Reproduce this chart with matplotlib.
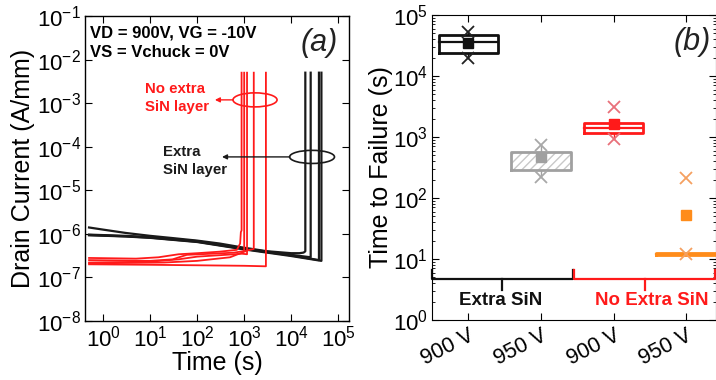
import numpy as np
import matplotlib
matplotlib.use("Agg")
import matplotlib.pyplot as plt
from matplotlib.patches import Ellipse

plt.rcParams['font.family'] = ['Liberation Sans', 'DejaVu Sans']
plt.rcParams['mathtext.fontset'] = 'custom'
plt.rcParams['mathtext.rm'] = 'Liberation Sans'

# ---------------- data: panel (a) ----------------
black_t = [
    [0.5, 1, 3, 10, 30, 100, 300, 1000, 3000, 1e4, 1.5e4, 1.8e4, 1.9e4, 2.0e4, 2.0e4],
    [0.5, 3, 10, 100, 1000, 1e4, 2.6e4, 2.6e4],
    [0.5, 3, 10, 100, 1000, 1e4, 3.9e4, 3.9e4],
    [0.5, 3, 10, 100, 1000, 1e4, 4.4e4, 4.4e4],
]
black_i = [
    [1.4e-6, 1.25e-6, 1.05e-6, 9e-7, 8e-7, 7e-7, 6e-7, 4.8e-7, 4.0e-7, 3.6e-7, 3.6e-7, 3.7e-7, 3.8e-7, 4.0e-7, 5e-3],
    [9.6e-7, 9.0e-7, 8.4e-7, 6.8e-7, 4.6e-7, 3.3e-7, 2.9e-7, 5e-3],
    [9.4e-7, 8.8e-7, 8.2e-7, 6.6e-7, 4.5e-7, 3.2e-7, 2.5e-7, 5e-3],
    [9.3e-7, 8.7e-7, 8.1e-7, 6.5e-7, 4.4e-7, 3.1e-7, 2.4e-7, 5e-3],
]
red_t = [
    [0.5, 5, 15, 40, 100, 300, 700, 820, 850, 880, 880],
    [0.5, 10, 30, 60, 200, 600, 950, 1000, 1000],
    [0.5, 10, 40, 100, 400, 900, 1150, 1150],
    [0.5, 20, 100, 500, 1200, 1600, 1600],
    [0.5, 10, 100, 1000, 2900, 2900],
]
red_i = [
    [2.8e-7, 2.7e-7, 2.9e-7, 3.4e-7, 3.6e-7, 3.9e-7, 4.3e-7, 6e-7, 1.1e-6, 1.2e-6, 5e-3],
    [2.5e-7, 2.4e-7, 2.6e-7, 3.3e-7, 3.5e-7, 3.7e-7, 4.0e-7, 4.2e-7, 5e-3],
    [2.2e-7, 2.3e-7, 2.6e-7, 3.0e-7, 3.3e-7, 3.5e-7, 3.4e-7, 5e-3],
    [2.1e-7, 2.2e-7, 2.4e-7, 2.9e-7, 4.2e-7, 4.5e-7, 5e-3],
    [2.0e-7, 1.95e-7, 1.9e-7, 1.85e-7, 1.8e-7, 5e-3],
]

# ---------------- data: panel (b) ----------------
categories = ['900 V', '950 V', '900 V', '950 V']
box_q1 = [2.4e4, 290, 1170, 11.6]
box_q3 = [4.7e4, 560, 1700, 12.6]
box_med = [3.6e4, np.nan, 1400, 12.1]
ttf_mean = [3.5e4, 470, 1630, 53]
ttf_max = [5.3e4, 740, 3100, 215]
ttf_min = [2.0e4, 220, 940, 12]
groups = ['Extra SiN', 'No Extra SiN']

W, H = 716, 380
fig = plt.figure(figsize=(W / 100, H / 100), dpi=100)

def frac(l, r, t, b):
    return [l / W, 1 - b / H, (r - l) / W, (b - t) / H]

TICK = 16
LAB = 18

# ================= panel (a) =================
ax = fig.add_axes(frac(85, 349, 16, 321))
for t, i in zip(black_t, black_i):
    ax.plot(t, i, color='#1a1a1a', lw=1.6)
for t, i in zip(red_t, red_i):
    ax.plot(t, i, color='#ff1a1a', lw=1.3)
ax.set_xscale('log')
ax.set_yscale('log')
ax.set_xlim(0.41, 1.7e5)
ax.set_ylim(1e-8, 1e-1)
ax.set_xticks([1e0, 1e1, 1e2, 1e3, 1e4, 1e5])
ax.set_yticks([10.0 ** k for k in range(-8, 0)])
ax.tick_params(which='both', direction='in', top=True, right=True, labelsize=TICK, pad=3)
ax.tick_params(which='major', length=5)
ax.tick_params(which='minor', length=2.5)
ax.set_xlabel('Time (s)', fontsize=LAB, labelpad=0)
ax.set_ylabel('Drain Current (A/mm)', fontsize=LAB, labelpad=1)
for s in ax.spines.values():
    s.set_linewidth(1.0)

ax.text(0.019, 0.944, 'VD = 900V, VG = -10V', transform=ax.transAxes,
        fontsize=12, fontweight='bold', va='center', ha='left')
ax.text(0.019, 0.880, 'VS = Vchuck = 0V', transform=ax.transAxes,
        fontsize=12, fontweight='bold', va='center', ha='left')
ax.text(0.886, 0.913, '(a)', transform=ax.transAxes, fontsize=22,
        fontstyle='italic', va='center', ha='center', color='#222')

ax.add_patch(Ellipse((0.644, 0.725), 0.167, 0.046, transform=ax.transAxes,
                     fill=False, ec='#ff1a1a', lw=1.2))
ax.add_patch(Ellipse((0.86, 0.538), 0.17, 0.043, transform=ax.transAxes,
                     fill=False, ec='#1a1a1a', lw=1.2))
ax.annotate('', xy=(0.492, 0.725), xytext=(0.561, 0.725), xycoords='axes fraction',
            arrowprops=dict(arrowstyle='-|>', color='#ff1a1a', lw=1.0, mutation_scale=7,
                            shrinkA=0, shrinkB=0))
ax.annotate('', xy=(0.519, 0.538), xytext=(0.776, 0.538), xycoords='axes fraction',
            arrowprops=dict(arrowstyle='-|>', color='#1a1a1a', lw=1.0, mutation_scale=7,
                            shrinkA=0, shrinkB=0))
ax.text(0.227, 0.731, 'No extra\nSiN layer', transform=ax.transAxes, color='#ff1a1a',
        fontsize=10.8, fontweight='bold', va='center', ha='left', linespacing=1.3)
ax.text(0.295, 0.525, 'Extra\nSiN layer', transform=ax.transAxes, color='#1a1a1a',
        fontsize=10.8, fontweight='bold', va='center', ha='left', linespacing=1.3)

# ================= panel (b) =================
bx = fig.add_axes(frac(432, 716, 15, 320))
bx.set_yscale('log')
bx.set_ylim(1, 1e5)
xpos = np.arange(len(categories))
bx.set_xlim(-0.5, 3.41)

edge_cols = ['#111111', '#a0a0a0', '#ff1a1a', '#ff8c1a']
x_cols = ['#222222', '#a8a8a8', '#e8707a', '#f5a060']
halfw = 0.41
for k, x in enumerate(xpos):
    c = edge_cols[k]
    q1, q3 = box_q1[k], box_q3[k]
    if k in (0, 1):
        bx.plot([x, x], [q3, ttf_max[k]], color=c, lw=1.0, zorder=2)
        bx.plot([x, x], [ttf_min[k], q1], color=c, lw=1.0, zorder=2)
    if k == 2:
        bx.plot([x, x], [ttf_min[k], q1], color=c, lw=1.0, zorder=2)
    hatch = '////' if k == 1 else None
    bx.fill_between([x - halfw, x + halfw], q1, q3, facecolor='white',
                    edgecolor='#c8c8c8' if k == 1 else 'none', hatch=hatch, lw=0, zorder=3)
    bx.plot([x - halfw, x + halfw, x + halfw, x - halfw, x - halfw],
            [q1, q1, q3, q3, q1], color=c, lw=2.0, zorder=4)
    if not np.isnan(box_med[k]):
        bx.plot([x - halfw, x + halfw], [box_med[k], box_med[k]], color=c, lw=1.6, zorder=4)
    bx.plot([x, x], [ttf_max[k], ttf_min[k]], ls='none', marker='x', ms=9, mew=1.3,
            color=x_cols[k], zorder=5)
    bx.plot([x], [ttf_mean[k]], ls='none', marker='s', ms=6.5,
            color=c if k != 1 else '#a0a0a0', zorder=6)

yb = 4.7
bx.plot([-0.5, -0.5, 1.44, 1.44], [6.6, yb, yb, 6.6], color='#111111', lw=1.6, clip_on=False)
bx.plot([0.47, 0.47], [yb, 3.1], color='#111111', lw=1.6)
bx.plot([1.46, 1.46, 3.40, 3.40], [6.6, yb, yb, 6.6], color='#ff1a1a', lw=1.6, clip_on=False)
bx.plot([2.43, 2.43], [yb, 3.1], color='#ff1a1a', lw=1.6)
bx.text(0.44, 2.1, groups[0], color='#111111', fontsize=13.5, fontweight='bold',
        ha='center', va='center')
bx.text(2.53, 2.1, groups[1], color='#ff1a1a', fontsize=13.5, fontweight='bold',
        ha='center', va='center')

bx.text(0.915, 0.911, '(b)', transform=bx.transAxes, fontsize=22,
        fontstyle='italic', va='center', ha='center', color='#222')

bx.set_xticks(xpos)
bx.set_xticklabels(categories, rotation=27, ha='right', rotation_mode='anchor', fontsize=15.5)
bx.set_yticks([10.0 ** k for k in range(0, 6)])
bx.tick_params(which='both', direction='in', top=True, right=True, labelsize=TICK, pad=3)
bx.tick_params(axis='x', labelsize=15.5, pad=4)
bx.tick_params(which='major', length=5)
bx.tick_params(which='minor', length=2.5)
bx.set_ylabel('Time to Failure (s)', fontsize=LAB, labelpad=0)

fig.savefig('out.png', dpi=100)
